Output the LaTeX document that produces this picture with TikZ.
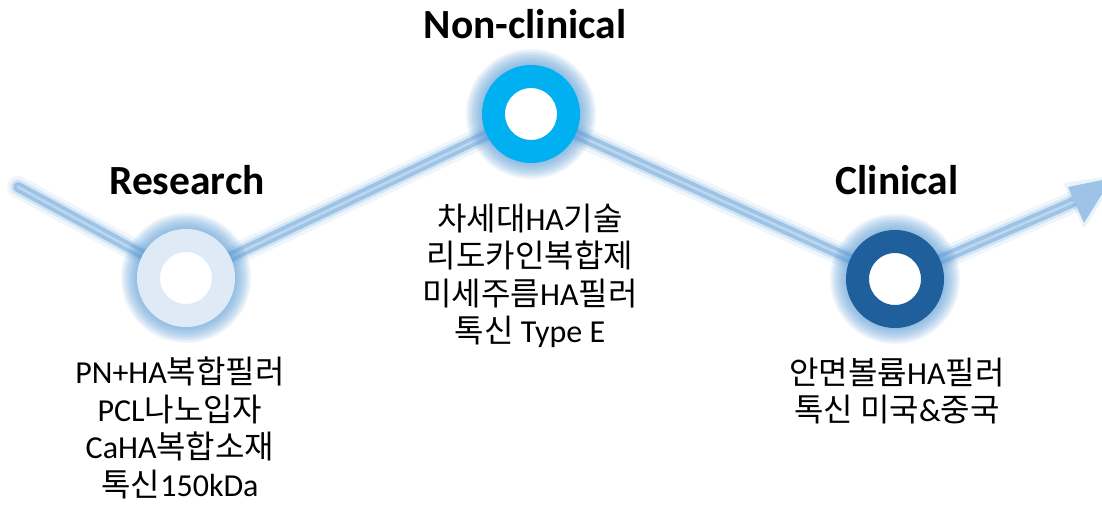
\documentclass[tikz,border=0pt]{standalone}
\usepackage{fontspec}
\setmainfont{Carlito}
\newfontfamily\kr{Noto Sans CJK KR}
\usetikzlibrary{arrows.meta,calc}
\definecolor{linec}{HTML}{9DC3E6}
\definecolor{linein}{HTML}{BDD7EE}
\definecolor{glowc}{HTML}{5B9BD5}
\definecolor{resc}{HTML}{DEEBF7}
\definecolor{nonc}{HTML}{00B0F0}
\definecolor{clic}{HTML}{1F5F9B}
\tikzset{
  gA/.style={draw=glowc, line width=22pt, opacity=0.10, line cap=round},
  gB/.style={draw=glowc, line width=15pt, opacity=0.18, line cap=round},
  gC/.style={draw=linec, line width=10pt, line cap=round},
  gD/.style={draw=linein, line width=2.5pt, line cap=round},
  ring/.style={circle, minimum size=75pt, inner sep=0pt, line width=23pt, fill=white},
  title/.style={font=\bfseries\fontsize{41.5}{44}\selectfont},
  body/.style={align=center, font=\fontsize{32}{37.5}\selectfont}
}
\begin{document}
\begin{tikzpicture}[x=1pt,y=-1pt]
\useasboundingbox (0,0) rectangle (1102,504);
\coordinate (st) at (18,187);
\coordinate (en) at (1078,200);
\coordinate (R) at (186,278);
\coordinate (N) at (531,114);
\coordinate (C) at (895,279);
\coordinate (hA) at (1068,187);
\coordinate (hB) at (1084,223);
\coordinate (hT) at (1112,178);
% glow lines
\foreach \s in {gA,gB,gC,gD}{
  \draw[\s] (st) -- (R) -- (N) -- (C) -- (en);
}
% arrow head with glow
\fill[glowc, opacity=0.12, rounded corners=3pt] ($(hA)+(-5,-4)$) -- ($(hB)+(0,6)$) -- ($(hT)+(6,-3)$) -- cycle;
\fill[linec] (hA) -- (hB) -- (hT) -- cycle;
% circle glows
\foreach \c in {R,N,C}{
  \foreach \r in {50,51.5,...,66}{
    \fill[glowc, opacity=0.09] (\c) circle (\r pt);
  }
}
\node[ring, draw=resc] (res) at (R) {};
\node[ring, draw=nonc] (non) at (N) {};
\node[ring, draw=clic] (cli) at (C) {};
% titles
\node[title] (tres) at (187,180) {Research};
\node[title] (tnon) at (525,24) {Non-clinical};
\node[title] (tcli) at (897,180) {Clinical};
% bodies
\node[body] (bres) at (180,428) {PN+HA{\kr 복합필러}\\PCL{\kr 나노입자}\\CaHA{\kr 복합소재}\\{\kr 톡신}150kDa};
\node[body] (bnon) at (530,276) {{\kr 차세대}HA{\kr 기술}\\{\kr 리도카인복합제}\\{\kr 미세주름}HA{\kr 필러}\\{\kr 톡신} Type E};
\node[body] (bcli) at (897,391) {{\kr 안면볼륨}HA{\kr 필러}\\{\kr 톡신 미국}\&{\kr 중국}};
\end{tikzpicture}
\end{document}
